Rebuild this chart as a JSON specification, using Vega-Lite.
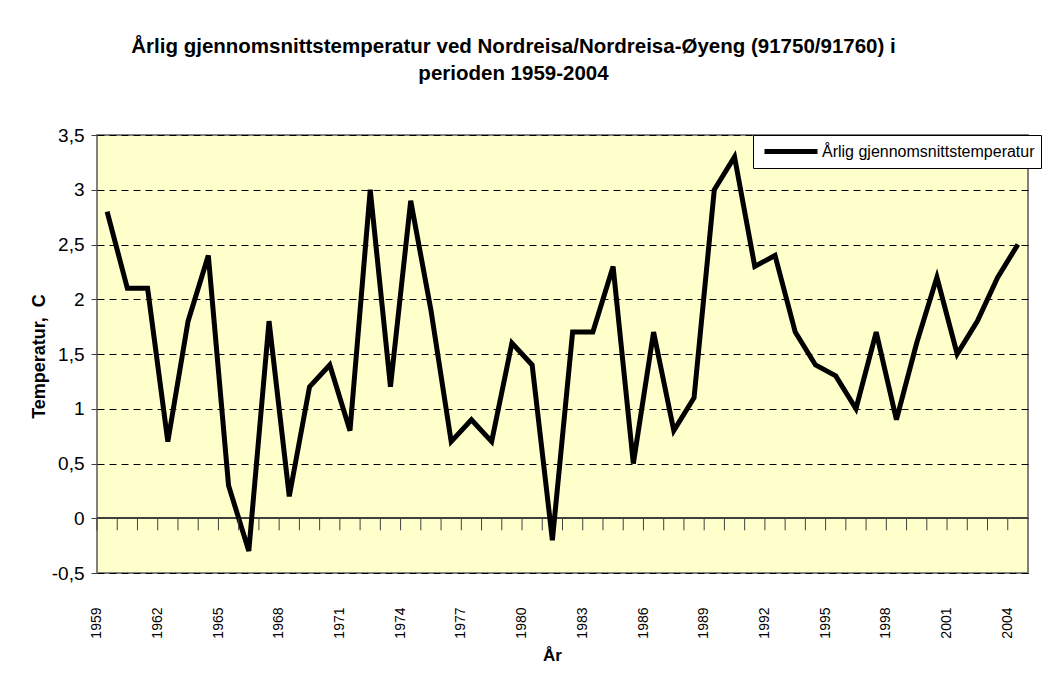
{
  "$schema": "https://vega.github.io/schema/vega-lite/v6.json",
  "autosize": "none",
  "width": 931,
  "height": 438,
  "padding": {"left": 97, "top": 135, "right": 35, "bottom": 104},
  "background": "#ffffff",
  "title": {
    "text": ["Årlig gjennomsnittstemperatur ved Nordreisa/Nordreisa-Øyeng (91750/91760) i", "perioden 1959-2004"],
    "fontSize": 20.5,
    "fontWeight": "bold",
    "font": "Liberation Sans",
    "color": "#000000",
    "lineHeight": 27,
    "anchor": "middle",
    "dx": -49,
    "offset": 42
  },
  "config": {
    "font": "Liberation Sans",
    "view": {"fill": "#FFFFCC", "stroke": "#808080", "strokeWidth": 2},
    "legend": {
      "orient": "none",
      "legendX": 656,
      "legendY": 0,
      "strokeColor": "#000000",
      "fillColor": "#ffffff",
      "padding": 6,
      "symbolType": "M-0.625,0H6",
      "symbolSize": 256,
      "symbolStrokeWidth": 5,
      "labelOffset": 42,
      "labelFontSize": 16,
      "labelFont": "Liberation Sans",
      "labelColor": "#000000",
      "labelLimit": 400
    }
  },
  "data": {
    "values": [
      {"year": 1959, "temp": 2.8},
      {"year": 1960, "temp": 2.1},
      {"year": 1961, "temp": 2.1},
      {"year": 1962, "temp": 0.7},
      {"year": 1963, "temp": 1.8},
      {"year": 1964, "temp": 2.4},
      {"year": 1965, "temp": 0.3},
      {"year": 1966, "temp": -0.3},
      {"year": 1967, "temp": 1.8},
      {"year": 1968, "temp": 0.2},
      {"year": 1969, "temp": 1.2},
      {"year": 1970, "temp": 1.4},
      {"year": 1971, "temp": 0.8},
      {"year": 1972, "temp": 3.0},
      {"year": 1973, "temp": 1.2},
      {"year": 1974, "temp": 2.9},
      {"year": 1975, "temp": 1.9},
      {"year": 1976, "temp": 0.7},
      {"year": 1977, "temp": 0.9},
      {"year": 1978, "temp": 0.7},
      {"year": 1979, "temp": 1.6},
      {"year": 1980, "temp": 1.4},
      {"year": 1981, "temp": -0.2},
      {"year": 1982, "temp": 1.7},
      {"year": 1983, "temp": 1.7},
      {"year": 1984, "temp": 2.3},
      {"year": 1985, "temp": 0.5},
      {"year": 1986, "temp": 1.7},
      {"year": 1987, "temp": 0.8},
      {"year": 1988, "temp": 1.1},
      {"year": 1989, "temp": 3.0},
      {"year": 1990, "temp": 3.3},
      {"year": 1991, "temp": 2.3},
      {"year": 1992, "temp": 2.4},
      {"year": 1993, "temp": 1.7},
      {"year": 1994, "temp": 1.4},
      {"year": 1995, "temp": 1.3},
      {"year": 1996, "temp": 1.0},
      {"year": 1997, "temp": 1.7},
      {"year": 1998, "temp": 0.9},
      {"year": 1999, "temp": 1.6},
      {"year": 2000, "temp": 2.2},
      {"year": 2001, "temp": 1.5},
      {"year": 2002, "temp": 1.8},
      {"year": 2003, "temp": 2.2},
      {"year": 2004, "temp": 2.5}
    ]
  },
  "layer": [
    {
      "mark": {"type": "rule", "color": "#404040", "strokeWidth": 1.5},
      "encoding": {
        "y": {"datum": 0, "type": "quantitative", "scale": {"domain": [-0.5, 3.5], "nice": false, "zero": false}}
      }
    },
    {
      "mark": {"type": "line", "strokeWidth": 5, "strokeJoin": "miter"},
      "encoding": {
        "x": {
          "field": "year",
          "type": "ordinal",
          "scale": {"type": "band", "paddingInner": 0, "paddingOuter": 0},
          "axis": {
            "values": [1959, 1962, 1965, 1968, 1971, 1974, 1977, 1980, 1983, 1986, 1989, 1992, 1995, 1998, 2001, 2004],
            "labelAngle": 270,
            "labelOffset": -10,
            "ticks": false,
            "tickSize": 0,
            "domain": false,
            "grid": false,
            "labelPadding": 34,
            "labelFontSize": 14,
            "labelColor": "#000000",
            "title": "År",
            "titleFontSize": 17,
            "titleFontWeight": "bold",
            "titleColor": "#000000",
            "titleX": 455,
            "titleY": 87,
            "titleAlign": "center",
            "titleBaseline": "alphabetic"
          }
        },
        "y": {
          "field": "temp",
          "type": "quantitative",
          "scale": {"domain": [-0.5, 3.5], "nice": false, "zero": false},
          "axis": {
            "values": [-0.5, 0, 0.5, 1, 1.5, 2, 2.5, 3, 3.5],
            "labelExpr": "replace(datum.value + '', '.', ',')",
            "grid": true,
            "gridDash": [7, 5],
            "gridColor": "#000000",
            "gridWidth": 1,
            "gridOpacity": 1,
            "tickSize": 6,
            "tickColor": "#404040",
            "domain": false,
            "labelFontSize": 19,
            "labelPadding": 7,
            "labelColor": "#000000",
            "title": "Temperatur,\u00a0\u00a0C",
            "titleFontSize": 18,
            "titleFontWeight": "bold",
            "titleColor": "#000000",
            "titleX": -58,
            "titleY": 221,
            "titleAngle": 270,
            "titleAlign": "center",
            "titleBaseline": "middle"
          }
        },
        "color": {"datum": "Årlig gjennomsnittstemperatur", "type": "nominal", "scale": {"range": ["#000000"]}, "legend": {"title": null}}
      }
    },
    {
      "mark": {"type": "rule", "color": "#404040", "strokeWidth": 1},
      "encoding": {
        "x": {
          "field": "year",
          "type": "ordinal",
          "bandPosition": 0,
          "scale": {"type": "band", "paddingInner": 0, "paddingOuter": 0},
          "axis": {
            "values": [1959, 1962, 1965, 1968, 1971, 1974, 1977, 1980, 1983, 1986, 1989, 1992, 1995, 1998, 2001, 2004],
            "labelAngle": 270,
            "labelOffset": -10,
            "ticks": false,
            "tickSize": 0,
            "domain": false,
            "grid": false,
            "labelPadding": 34,
            "labelFontSize": 14,
            "labelColor": "#000000",
            "title": "År",
            "titleFontSize": 17,
            "titleFontWeight": "bold",
            "titleColor": "#000000",
            "titleX": 455,
            "titleY": 87,
            "titleAlign": "center",
            "titleBaseline": "alphabetic"
          }
        },
        "y": {"datum": 0, "type": "quantitative"},
        "y2": {"datum": -0.11}
      }
    }
  ]
}
